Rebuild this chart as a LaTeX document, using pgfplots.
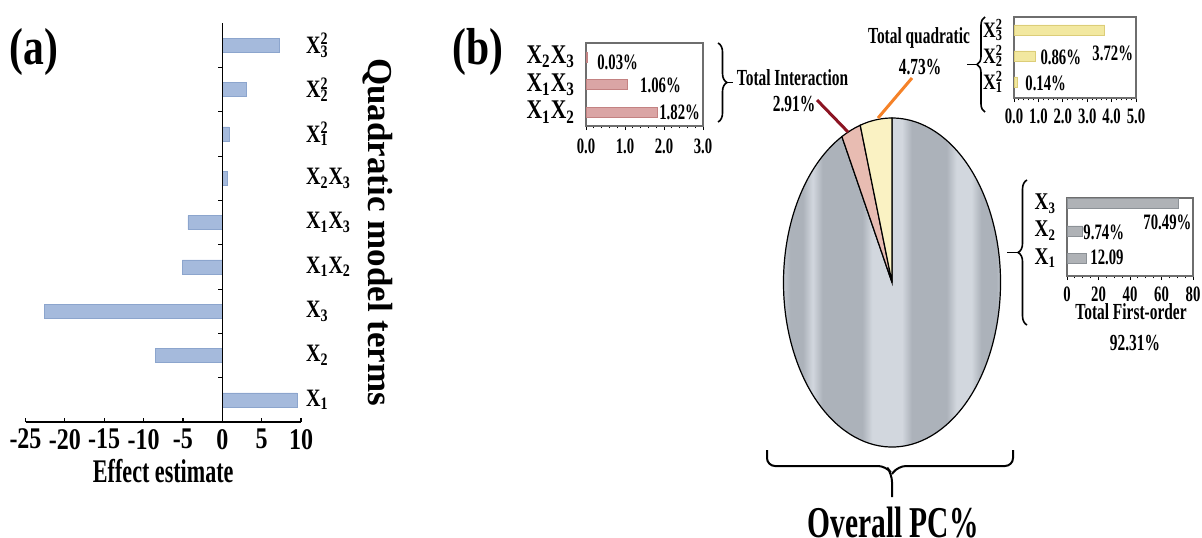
\documentclass[border=0pt]{standalone}
\usepackage{pgfplots}
\pgfplotsset{compat=1.18}
\usepackage{fontspec}
\setmainfont{Liberation Serif}[FakeStretch=0.8]
\newfontfamily\condfont{Liberation Serif}[FakeStretch=0.67]
\newfontfamily\widefont{Liberation Serif}
\usetikzlibrary{decorations.pathreplacing}

\definecolor{barA}{RGB}{165,186,220}
\definecolor{barAd}{RGB}{140,165,205}
\definecolor{barI}{RGB}{218,165,165}
\definecolor{barId}{RGB}{195,130,130}
\definecolor{barQ}{RGB}{242,232,160}
\definecolor{barQd}{RGB}{220,205,120}
\definecolor{barF}{RGB}{175,178,182}
\definecolor{barFd}{RGB}{140,145,150}
\definecolor{pl}{RGB}{210,215,222}
\definecolor{pd}{RGB}{172,178,186}
\definecolor{pieI}{RGB}{232,188,178}
\definecolor{pieQ}{RGB}{250,242,195}
\definecolor{lineI}{RGB}{140,20,35}
\definecolor{lineQ}{RGB}{245,130,40}
\definecolor{boxc}{RGB}{110,110,110}

\pgfdeclarehorizontalshading{pieshade}{100bp}{color(0bp)=(pl); color(25bp)=(pl); color(27bp)=(pl); color(29.5bp)=(pd); color(32bp)=(pd);
 color(34bp)=(pl); color(36bp)=(pd); color(44bp)=(pd); color(46bp)=(pl); color(52bp)=(pl); color(54bp)=(pd);
 color(61bp)=(pd); color(63bp)=(pl); color(66bp)=(pl); color(68bp)=(pd); color(71bp)=(pd); color(73bp)=(pl); color(75bp)=(pl); color(100bp)=(pl)}

\newcommand{\XX}[2]{X\rlap{\textsuperscript{#2}}\textsubscript{#1}}
\newcommand{\XY}[2]{X\textsubscript{#1}X\textsubscript{#2}}

% data
\pgfplotstableread{
y val
1 9.5
2 -8.45
3 -22.6
4 -5.07
5 -4.36
6 0.63
7 0.84
8 3.10
9 7.26
}\effects
\pgfplotstableread{
y val
1 1.82
2 1.06
3 0.03
}\interact
\pgfplotstableread{
y val
1 0.14
2 0.86
3 3.72
}\quadr
\pgfplotstableread{
y val
1 12.09
2 9.74
3 70.49
}\first
\def\pFirst{92.31}
\def\pInter{2.91}
\def\pQuad{4.73}

\pgfplotsset{
  inset/.style={
    scale only axis, anchor=south west,
    xbar, bar width=5pt,
    axis line style={draw=boxc, line width=0.6pt},
    y tick style={draw=none},
    xtick pos=bottom,
    tick align=outside,
    major tick length=2pt, minor tick length=1.2pt,
    x tick style={black, line width=0.5pt},
    xticklabel style={font=\condfont\fontsize{11}{12}\selectfont\bfseries},
    /pgf/number format/assume math mode=true,
  }
}

\begin{document}
\begin{tikzpicture}
\path[use as bounding box] (0,0) rectangle (601pt,268.5pt);

% ---------------- panel (a) ----------------
\begin{axis}[
  at={(12.75pt,57.5pt)}, anchor=south west,
  scale only axis, width=137.75pt, height=199.5pt,
  xbar, bar width=7pt,
  xmin=-25, xmax=10, ymin=0.5, ymax=9.5,
  axis x line*=bottom, axis y line*=right,
  y axis line style={draw=none},
  x axis line style={line width=0.8pt},
  xtick={-25,-20,...,10},
  ytick={1,...,9},
  yticklabels={\XX{1}{},\XX{2}{},\XX{3}{},\XY{1}{2},\XY{1}{3},\XY{2}{3},\XX{1}{2},\XX{2}{2},\XX{3}{2}},
  yticklabel pos=right,
  y tick style={draw=none},
  x tick style={black, line width=0.6pt},
  tick align=inside, major tick length=2pt,
  xticklabel style={font=\fontsize{15}{17}\selectfont\bfseries},
  yticklabel style={font=\fontsize{12.5}{13}\selectfont\bfseries, xshift=-1pt},
  xlabel={Effect estimate},
  xlabel style={font=\condfont\fontsize{16.5}{18}\selectfont\bfseries, yshift=2pt},
  /pgf/number format/assume math mode=true,
]
\addplot[fill=barA, draw=barAd, line width=0.3pt] table[x=val, y=y] {\effects};
\draw[line width=0.6pt] (axis cs:0,0.5) -- (axis cs:0,9.5);
\pgfplotsinvokeforeach{1.5,2.5,3.5,4.5,5.5,6.5,7.5,8.5}{
  \draw[line width=0.5pt] (axis cs:0,#1) -- ++(-2pt,0pt);
}
\end{axis}

% ---------------- inset: interaction ----------------
\begin{axis}[inset,
  at={(293pt,205.5pt)}, width=58.5pt, height=41.5pt,
  xmin=0, xmax=3, ymin=0.5, ymax=3.5,
  xtick={0,1,2,3}, minor x tick num=4,
  xticklabel style={/pgf/number format/.cd, fixed, fixed zerofill, precision=1, /tikz/.cd, yshift=-1pt},
  ytick={1,2,3},
  yticklabels={\XY{1}{2},\XY{1}{3},\XY{2}{3}},
  yticklabel style={font=\fontsize{13.5}{14}\selectfont\bfseries},
]
\addplot[fill=barI, draw=barId, line width=0.3pt] table[x=val, y=y] {\interact};
\node[anchor=west, inner sep=0pt, font=\condfont\fontsize{11}{12}\selectfont\bfseries] at (axis cs:0.28,2.81) {0.03\%};
\node[anchor=west, inner sep=0pt, font=\condfont\fontsize{11}{12}\selectfont\bfseries] at (axis cs:1.38,1.98) {1.06\%};
\node[anchor=west, inner sep=0pt, font=\condfont\fontsize{11}{12}\selectfont\bfseries] at (axis cs:1.87,1.0) {1.82\%};
\end{axis}

% ---------------- inset: quadratic ----------------
\begin{axis}[inset,
  at={(507pt,219.5pt)}, width=61pt, height=40.5pt,
  xmin=0, xmax=5, ymin=0.38, ymax=3.5,
  xtick={0,1,2,3,4,5}, minor x tick num=4,
  xticklabel style={/pgf/number format/.cd, fixed, fixed zerofill, precision=1},
  ytick={1,2,3},
  yticklabels={\XX{1}{2},\XX{2}{2},\XX{3}{2}},
  yticklabel style={font=\fontsize{11}{12}\selectfont\bfseries},
]
\addplot[fill=barQ, draw=barQd, line width=0.3pt] table[x=val, y=y] {\quadr};
\node[anchor=west, inner sep=0pt, font=\condfont\fontsize{11}{12}\selectfont\bfseries] at (axis cs:3.2,2.11) {3.72\%};
\node[anchor=west, inner sep=0pt, font=\condfont\fontsize{11}{12}\selectfont\bfseries] at (axis cs:1.07,1.96) {0.86\%};
\node[anchor=west, inner sep=0pt, font=\condfont\fontsize{11}{12}\selectfont\bfseries] at (axis cs:0.45,0.96) {0.14\%};
\end{axis}

% ---------------- inset: first order ----------------
\begin{axis}[inset,
  at={(533.5pt,130.5pt)}, width=63pt, height=39pt,
  xmin=0, xmax=80, ymin=0.35, ymax=3.2,
  xtick={0,20,40,60,80}, minor x tick num=3,
  ytick={1,2,3},
  yticklabels={\XX{1}{},\XX{2}{},\XX{3}{}},
  yticklabel style={font=\fontsize{12}{13}\selectfont\bfseries},
]
\addplot[fill=barF, draw=barFd, line width=0.3pt] table[x=val, y=y] {\first};
\node[anchor=west, inner sep=0pt, font=\condfont\fontsize{11}{12}\selectfont\bfseries] at (axis cs:48.3,2.32) {70.49\%};
\node[anchor=west, inner sep=0pt, font=\condfont\fontsize{11}{12}\selectfont\bfseries] at (axis cs:10.2,1.96) {9.74\%};
\node[anchor=west, inner sep=0pt, font=\condfont\fontsize{11}{12}\selectfont\bfseries] at (axis cs:14.6,1.04) {12.09};
\end{axis}

% ---------------- pie ----------------
\begin{axis}[
  at={(446pt,127.25pt)}, anchor=center,
  scale only axis, width=108.5pt, height=164.5pt,
  xmin=-1, xmax=1, ymin=-1, ymax=1, hide axis, clip=false,
]
\pgfmathsetmacro{\aQ}{90+\pQuad*3.6}
\pgfmathsetmacro{\aI}{\aQ+\pInter*3.6}
\shadedraw[shading=pieshade, draw=black, line width=0.6pt] (axis cs:0,0) -- (axis cs:{cos(\aI)},{sin(\aI)})
  arc[start angle=\aI, end angle=450, x radius=54.25pt, y radius=82.25pt] -- cycle;
\filldraw[fill=pieI, draw=black, line width=0.6pt] (axis cs:0,0) -- (axis cs:{cos(\aQ)},{sin(\aQ)})
  arc[start angle=\aQ, end angle=\aI, x radius=54.25pt, y radius=82.25pt] -- cycle;
\filldraw[fill=pieQ, draw=black, line width=0.6pt] (axis cs:0,0) -- (axis cs:0,1)
  arc[start angle=90, end angle=\aQ, x radius=54.25pt, y radius=82.25pt] -- cycle;
\end{axis}

% ---------------- annotations (pixel coordinates) ----------------
\begin{scope}[shift={(0pt,268.5pt)}, x=0.5pt, y=-0.5pt]
\node[font=\fontsize{26}{28}\selectfont\bfseries] at (34,52) {(a)};
\node[font=\fontsize{26}{28}\selectfont\bfseries] at (478,52) {(b)};
\node[rotate=-90, font=\widefont\fontsize{17.5}{19}\selectfont\bfseries] at (378,232) {Quadratic model terms};

\draw[decorate, decoration={brace, amplitude=4.5pt}, line width=0.8pt] (718,43) -- (718,122);
\draw[line width=0.8pt] (727,82.5) -- (733,82.5);
\node[font=\condfont\fontsize{11.5}{12}\selectfont\bfseries] at (792.5,78) {Total Interaction};
\node[font=\condfont\fontsize{11.5}{12}\selectfont\bfseries] at (794,104) {2.91\%};
\draw[lineI, line width=1.5pt] (817,100) -- (848,132);

\node[font=\condfont\fontsize{11.5}{12}\selectfont\bfseries] at (919,38) {Total quadratic};
\node[font=\condfont\fontsize{11.5}{12}\selectfont\bfseries] at (920,67) {4.73\%};
\draw[lineQ, line width=1.5pt] (912,78) -- (878,118);
\draw[decorate, decoration={brace, amplitude=4pt}, line width=0.8pt] (985,112) -- (985,17);
\draw[line width=0.8pt] (967,64.5) -- (977,64.5);

\draw[decorate, decoration={brace, amplitude=4.5pt}, line width=0.8pt] (1027,325) -- (1027,180);
\draw[line width=0.8pt] (1007,252.5) -- (1018,252.5);
\node[font=\condfont\fontsize{11.5}{12}\selectfont\bfseries] at (1131,312) {Total First-order};
\node[font=\condfont\fontsize{11.5}{12}\selectfont\bfseries] at (1135,343) {92.31\%};

\draw[line width=1pt, rounded corners=4pt] (767,450) -- (767,466) -- (886,466) -- (892,474) -- (892,497);
\draw[line width=1pt, rounded corners=4pt] (1013,450) -- (1013,466) -- (898,466) -- (892,474);
\node[font=\condfont\fontsize{22}{24}\selectfont\bfseries] at (893,523) {Overall PC\%};
\end{scope}
\end{tikzpicture}
\end{document}
